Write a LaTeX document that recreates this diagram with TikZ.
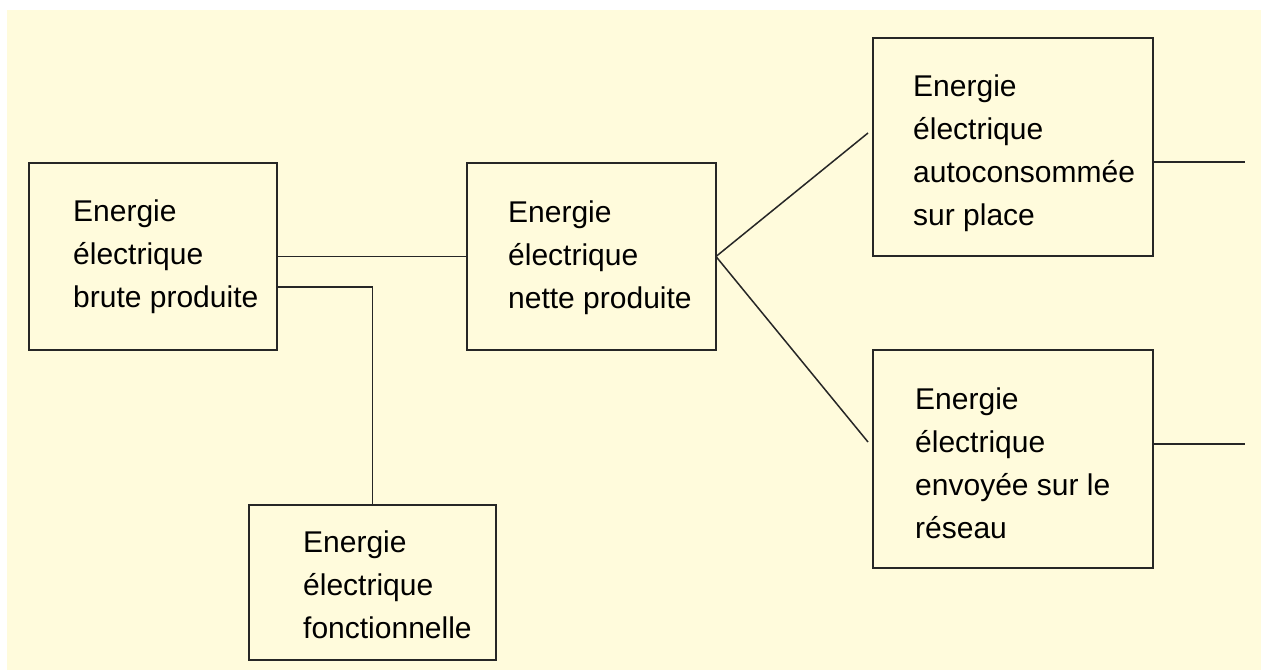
\documentclass[tikz,border=0pt]{standalone}
\usepackage{fontspec}
\setmainfont{Liberation Sans}
\definecolor{bgyellow}{RGB}{255,251,220}
\begin{document}
\begin{tikzpicture}[x=1pt,y=-1pt,
  box/.style={draw=black!85,line width=2pt,anchor=north west,inner sep=0pt,outer sep=0pt},
  lbl/.style={anchor=base west,inner sep=0pt,align=left,font=\fontsize{30}{43}\selectfont},
  link/.style={draw=black!85,line width=1.5pt}]
\useasboundingbox (0,0) rectangle (1261,670);
\fill[white] (0,0) rectangle (1261,670);
\fill[bgyellow] (7,10) rectangle (1261,670);
% boxes
\node[box,minimum width=248pt,minimum height=187pt] (b1) at (29,163) {};
\node[box,minimum width=249pt,minimum height=187pt] (b2) at (467,163) {};
\node[box,minimum width=280pt,minimum height=218pt] (b3) at (873,38) {};
\node[box,minimum width=280pt,minimum height=218pt] (b4) at (873,350) {};
\node[box,minimum width=247pt,minimum height=155pt] (b5) at (249,505) {};
% texts (anchor = baseline of last line)
\node[lbl] (t1) at (73,307) {Energie\\électrique\\brute produite};
\node[lbl] (t2) at (508,308) {Energie\\électrique\\nette produite};
\node[lbl] (t3) at (913,225) {Energie\\électrique\\autoconsommée\\sur place};
\node[lbl] (t4) at (915,538) {Energie\\électrique\\envoyée sur le\\réseau};
\node[lbl] (t5) at (303,638) {Energie\\électrique\\fonctionnelle};
% free ends
\coordinate (e3) at (868,133);
\coordinate (e4) at (868,442);
\coordinate (r3) at (1245,162);
\coordinate (r4) at (1245,444);
% connectors
\draw[link] (b1.east) -- (b2.west);
\draw[link] (b5.north) |- ([yshift=-30.5pt]b1.east);
\draw[link] (b2.east) -- (e3);
\draw[link] (b2.east) -- (e4);
\draw[link] ([yshift=-15pt]b3.east) -- (r3);
\draw[link] ([yshift=15pt]b4.east) -- (r4);
\end{tikzpicture}
\end{document}
